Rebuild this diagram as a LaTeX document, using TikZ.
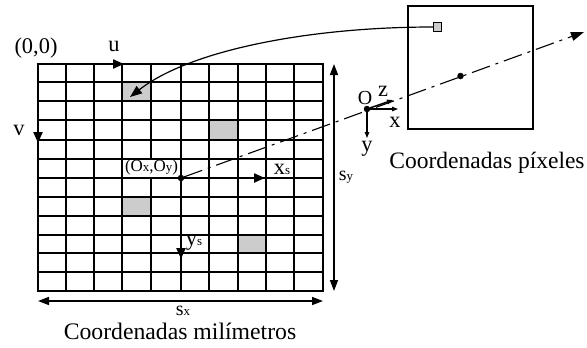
\documentclass[tikz,border=0pt]{standalone}
\usepackage{fontspec}
\setmainfont{Liberation Serif}
\usetikzlibrary{arrows.meta}
\tikzset{
  grid line/.style={line width=1.5bp,black,line cap=rect},
  cell/.style={fill=black!20,draw=none},
  main arrow/.style={line width=2.2bp,-{Triangle[length=11bp,width=9bp]}},
  dim arrow/.style={line width=1.5bp,{Triangle[length=11bp,width=8bp]}-{Triangle[length=11bp,width=8bp]}},
  thin arrow/.style={line width=1.1bp,-{Triangle[length=6bp,width=4.5bp]}},
  lab/.style={inner sep=0pt,font=\fontsize{22.5}{25}\selectfont},
  dot/.style={circle,fill=black,inner sep=0pt,minimum size=6.5bp}
}
\newcommand{\smalls}[1]{{\fontsize{13}{14}\selectfont #1}}
\begin{document}
\begin{tikzpicture}[x=1bp,y=-1bp]
\useasboundingbox (0,0) rectangle (587,347);
\fill[white] (0,0) rectangle (587,347);
% shaded cells
\fill[cell] (122,82) rectangle (151,101);
\fill[cell] (209,120) rectangle (238,140);
\fill[cell] (122,197) rectangle (151,216);
\fill[cell] (238,235) rectangle (266,253);
% grid
\foreach \gx in {38,66,94,122,151,181,209,238,266,294,323} \draw[grid line] (\gx,64) -- (\gx,291);
\foreach \gy in {64,82,101,120,140,159,178,197,216,235,253,272,291} \draw[grid line] (38,\gy) -- (323,\gy);
% coordinates
\coordinate (origin) at (38,64);
\coordinate (uend) at (124,64);
\coordinate (vend) at (38,143);
\coordinate (dimxa) at (38,301);
\coordinate (dimxb) at (323,301);
\coordinate (dimya) at (334,64);
\coordinate (dimyb) at (334,291);
\coordinate (xsend) at (265,178);
\coordinate (ysend) at (181,259);
\coordinate (rayend) at (584,32);
% image plane
\node[draw,line width=2bp,minimum width=125bp,minimum height=123bp,inner sep=0pt,outer sep=0pt,anchor=north west] (plane) at (408,6) {};
\node[draw,fill=black!20,line width=1.5bp,minimum width=8bp,minimum height=9bp,inner sep=0pt] (pixel) at (437.5,27) {};
% points
\node[dot] (pp) at (181,178) {};
\node[dot] (oc) at (367,109) {};
\node[dot] (ic) at (460.5,76) {};
\coordinate (xend) at (398,109);
\coordinate (yend) at (367,138);
\coordinate (zend) at (393,100);
% arrows
\draw[main arrow] (origin) -- (uend);
\draw[main arrow] (origin) -- (vend);
\draw[dim arrow] (dimxa) -- (dimxb);
\draw[dim arrow] (dimya) -- (dimyb);
\draw[main arrow] (pp) -- (xsend);
\draw[main arrow] (pp) -- (ysend);
\draw[line width=1.1bp,dash pattern=on 19bp off 6bp on 3bp off 6bp,-{Triangle[length=13bp,width=9bp]}] (pp) -- (rayend);
\draw[thin arrow] (oc) -- (xend);
\draw[thin arrow] (oc) -- (yend);
\draw[thin arrow,line width=1.5bp] (oc) -- (zend);
\draw[line width=1.2bp,-{Triangle[length=12bp,width=9bp]}] (pixel.west) .. controls (310,27) and (190,50) .. (130,97);
% labels
\node[lab] (l00) at (36,48) {(0,0)};
\node[lab] (lu) at (114,46) {u};
\node[lab] (lv) at (19,130) {v};
\fill[white] (125,160) rectangle (177,177);
\node[inner sep=0pt,font=\fontsize{17}{19}\selectfont] (lo) at (151.5,167) {(O\smalls{x},O\smalls{y})};
\node[lab] (lxs) at (282,169) {x\smalls{s}};
\node[lab] (lys) at (194,243) {y\smalls{s}};
\node[inner sep=0pt,font=\fontsize{20}{22}\selectfont] (lsx) at (183,311) {s\smalls{x}};
\node[inner sep=0pt,font=\fontsize{20}{22}\selectfont] (lsy) at (346,177) {s\smalls{y}};
\node[inner sep=0pt,font=\fontsize{20}{22}\selectfont] (lO) at (365,98) {O};
\node[lab] (lz) at (383,91) {z};
\node[lab] (lx) at (395,122) {x};
\node[lab] (ly) at (367,149) {y};
\node[lab,font=\fontsize{23.8}{26}\selectfont] (cm) at (180,331) {Coordenadas milímetros};
\node[lab,font=\fontsize{23.6}{26}\selectfont] (cp) at (487,163) {Coordenadas píxeles};
\end{tikzpicture}
\end{document}
